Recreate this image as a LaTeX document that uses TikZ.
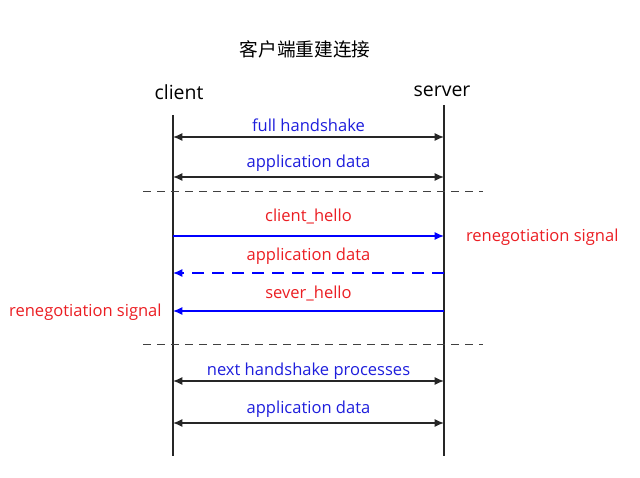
\documentclass[tikz,border=0pt]{standalone}
\usepackage{fontspec}
\setmainfont{Open Sans}
\newfontfamily\cjk{Noto Sans CJK SC}
\definecolor{msgblue}{RGB}{30,30,220}
\definecolor{msgred}{RGB}{235,30,35}
\definecolor{linkblue}{RGB}{0,0,255}
\usetikzlibrary{arrows.meta, positioning}

\begin{document}
\begin{tikzpicture}[
    x=0.75pt, y=-0.75pt,
    actor/.style={font=\fontsize{14.6}{17}\selectfont},
    msg/.style={font=\fontsize{12.4}{14}\selectfont, text=msgblue},
    redmsg/.style={font=\fontsize{12.4}{14}\selectfont, text=msgred},
    lifeline/.style={line width=1.1pt, black!85},
    both/.style={{Latex[length=7pt,width=6pt]}-{Latex[length=7pt,width=6pt]}, line width=1.1pt, black!85},
    signal/.style={-{Latex[length=7pt,width=6pt]}, line width=0.9pt, color=linkblue},
    separator/.style={dash pattern=on 6pt off 4.5pt, line width=0.6pt, black!75}
]
    \useasboundingbox (0,0) rectangle (640,478);

    % Title
    \node[font=\cjk\fontsize{14}{16}\selectfont] (title) at (305,49) {客户端重建连接};

    % Actors
    \node[actor] (client) at (179,92) {client};
    \node[actor] (server) at (442,91) {server};

    % Lifelines
    \coordinate (cTop) at (173,115);
    \coordinate (cEnd) at (173,456);
    \coordinate (sTop) at (444,105);
    \coordinate (sEnd) at (444,456);
    \draw[lifeline] (cTop) -- (cEnd);
    \draw[lifeline] (sTop) -- (sEnd);

    % Points on the lifelines
    \foreach \name/\y in {a/137, b/177, c/236, d/273, e/311, f/381, g/423} {
        \coordinate (c\name) at (173,\y);
        \coordinate (s\name) at (444,\y);
    }

    % First phase
    \draw[both] (ca) -- node[msg, yshift=9pt] (fullHs) {full handshake} (sa);
    \draw[both] (cb) -- node[msg, yshift=10.5pt] (appData1) {application data} (sb);

    % Separators
    \coordinate (sepAl) at (143,191);
    \coordinate (sepAr) at (483,191);
    \coordinate (sepBl) at (143,344);
    \coordinate (sepBr) at (483,344);
    \draw[separator] (sepAl) -- (sepAr);
    \draw[separator] (sepBl) -- (sepBr);

    % Renegotiation
    \draw[signal] (cc) -- node[redmsg, yshift=14.5pt] (clientHello) {client\_hello} (sc);
    \draw[signal, dash pattern=on 9pt off 6pt] (sd) -- node[redmsg, yshift=12.5pt] (appData2) {application data} (cd);
    \draw[signal] (se) -- node[redmsg, yshift=13pt] (severHello) {sever\_hello} (ce);
    \node[redmsg, right=13pt of sc, yshift=-1pt] (sigRight) {renegotiation signal};
    \node[redmsg, left=5pt of ce, yshift=-1pt] (sigLeft) {renegotiation signal};

    % Second phase
    \draw[both] (cf) -- node[msg, yshift=7.5pt] (nextHs) {next handshake processes} (sf);
    \draw[both] (cg) -- node[msg, yshift=10.5pt] (appData3) {application data} (sg);

\end{tikzpicture}
\end{document}
